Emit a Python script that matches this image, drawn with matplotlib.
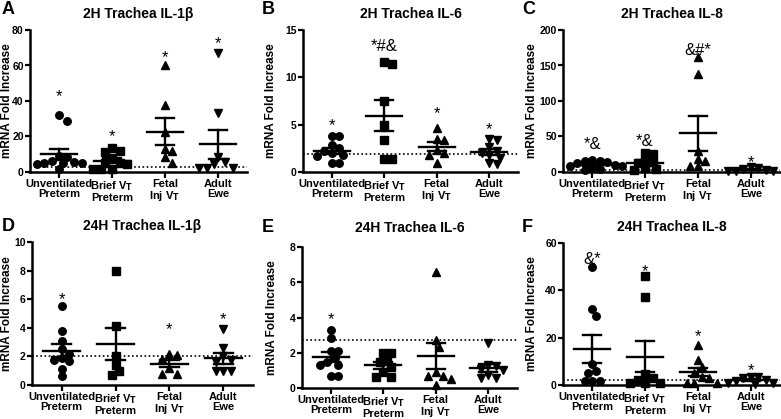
import numpy as np
import matplotlib
matplotlib.use("Agg")
import matplotlib.pyplot as plt
from matplotlib.transforms import offset_copy

plt.rcParams['font.family'] = ['Liberation Sans', 'DejaVu Sans']
plt.rcParams['font.weight'] = 'bold'
plt.rcParams['mathtext.default'] = 'bf'

groups = ['Unventilated\nPreterm', 'Brief V$_\\mathbf{T}$\nPreterm',
          'Fetal\nInj V$_\\mathbf{T}$', 'Adult\nEwe']
markers = ['o', 's', '^', 'v']

# values (fold increase), one list per group
A_vals = [[32, 29, 9, 8.5, 6, 5.5, 5.3, 5, 5, 4.5, 1.5],
          [13.5, 12, 11.5, 7.9, 5.3, 5, 4.5, 1.5, 1.5, 1.5],
          [60, 37.7, 22.7, 13, 12, 8.4, 5],
          [67, 33.4, 8.3, 5.5, 4.5, 2.2, 2.2, 2.2]]
B_vals = [[3.8, 3.75, 2.8, 2.5, 2.2, 2.0, 1.8, 1.7, 1.0, 1.0],
          [11.6, 11.4, 7.5, 5.0, 3.4, 1.4, 1.4],
          [4.7, 3.5, 3.4, 2.3, 2.0, 1.8, 1.0],
          [3.5, 3.4, 2.6, 2.2, 2.0, 1.8, 1.5, 1.0, 0.8]]
C_vals = [[17, 16, 15, 14, 13, 10, 9, 8, 5, 4, 3],
          [27, 25, 16, 14, 12, 5, 4, 3],
          [162, 138, 30, 19, 16, 8, 8],
          [7, 5, 4, 3, 2, 2, 1]]
D_vals = [[5.5, 3.8, 3.05, 2.55, 2.2, 1.9, 1.75, 1.65, 1.1, 0.6],
          [8.0, 4.1, 2.05, 1.4, 0.95, 0.7],
          [2.2, 2.1, 1.8, 1.2, 0.8, 0.8],
          [3.9, 2.6, 2.0, 1.75, 1.6, 1.0, 1.0, 1.0]]
E_vals = [[3.3, 2.85, 2.1, 2.1, 1.7, 1.5, 1.3, 1.3, 0.7, 0.7],
          [2.0, 2.0, 1.6, 1.5, 1.2, 0.9, 0.6, 0.6],
          [6.6, 2.7, 2.3, 0.9, 0.7, 0.7, 0.5, 0.15],
          [2.55, 1.3, 1.25, 1.1, 1.0, 0.75, 0.55, 0.55]]
F_vals = [[50, 32, 29, 9, 6, 5, 1.5, 1.5, 1.5],
          [46, 37, 4.5, 3, 2, 1, 1, 1],
          [17, 10.5, 7.5, 5, 3.5, 3, 1, 1, 1],
          [3.5, 3.5, 3, 2, 1.5, 1, 1, 0.5]]

# significance marks and the height of their centre
A_sig = (['*', '*', '*', '*'], [45, 22.5, 67, 75])
B_sig = (['*', '*#&', '*', '*'], [5.4, 13.4, 6.6, 4.9])
C_sig = (['*&', '*&', '&#*', '*'], [41, 45, 173, 19.5])
D_sig = (['*', '', '*', '*'], [6.3, 0, 4.2, 4.9])
E_sig = (['*', '', '', ''], [4.15, 0, 0, 0])
F_sig = (['&*', '*', '*', '*'], [53.6, 50, 22.2, 8])

titles = ['2H Trachea IL-1\u03b2', '2H Trachea IL-6', '2H Trachea IL-8',
          '24H Trachea IL-1\u03b2', '24H Trachea IL-6', '24H Trachea IL-8']
letters = ['A', 'B', 'C', 'D', 'E', 'F']
ymax = [80, 15, 200, 10, 8, 60]
ystep = [20, 5, 50, 2, 2, 20]
baseline = [2.6, 1.95, 3.5, 2.0, 2.72, 2.3]

W, H = 781, 419
# axes boxes in pixels: left, top, right, bottom
boxes = [(30, 30, 247, 172), (303, 30, 518, 172), (563, 30, 780, 172),
         (32, 242, 253, 385), (302, 247, 517, 388), (563, 243, 780, 385)]
ylab_x = [7, 271, 532, 7, 272, 532]
title_y = [14, 14, 14, 226, 228, 227]
letter_xy = [(2, 9), (262, 9), (522, 9), (2, 226), (262, 227), (522, 227)]


def swarm(ax, vals, x0, size_px):
    # simple beeswarm offsets in data units
    trans = ax.transData
    order = np.argsort(vals)[::-1]
    placed = []
    xs = np.zeros(len(vals))
    ppx = (trans.transform((1, 0))[0] - trans.transform((0, 0))[0])
    for i in order:
        yp = trans.transform((0, vals[i]))[1]
        for k in range(40):
            off = ((k + 1) // 2) * (1 if k % 2 else -1) * 0.5 * size_px
            ok = True
            for (px, py) in placed:
                if (px - off) ** 2 + (py - yp) ** 2 < (size_px * 0.95) ** 2:
                    ok = False
                    break
            if ok:
                break
        placed.append((off, yp))
        xs[i] = x0 + off / ppx
    return xs


fig = plt.figure(figsize=(W / 100, H / 100), dpi=100)

panels = [A_vals, B_vals, C_vals, D_vals, E_vals, F_vals]
sigs = [A_sig, B_sig, C_sig, D_sig, E_sig, F_sig]

for p in range(6):
    l, t, r, b = boxes[p]
    ax = fig.add_axes([l / W, 1 - b / H, (r - l) / W, (b - t) / H])
    ax.set_xlim(-0.55, 3.55)
    ax.set_ylim(0, ymax[p])
    for side in ['top', 'right']:
        ax.spines[side].set_visible(False)
    for side in ['left', 'bottom']:
        ax.spines[side].set_linewidth(1.8)
    ax.set_yticks(np.arange(0, ymax[p] + 0.01, ystep[p]))
    ax.set_xticks(range(4))
    ax.set_xticklabels(groups, fontsize=8, fontweight='bold', linespacing=1.0)
    ax.tick_params(axis='x', width=1.6, length=4, labelsize=8, pad=1)
    ax.tick_params(axis='y', width=1.6, length=3.5, labelsize=7.5, pad=1)
    for lab in ax.get_yticklabels():
        lab.set_fontweight('bold')
    ax.set_ylabel('mRNA Fold Increase', fontsize=8.5, fontweight='bold', va='center')
    ax.yaxis.set_label_coords((ylab_x[p] - l) / (r - l), 0.5)
    fig.text((l + r) / 2 / W, 1 - title_y[p] / H, titles[p], fontsize=10,
             fontweight='bold', ha='center', va='center')
    fig.text(letter_xy[p][0] / W, 1 - letter_xy[p][1] / H, letters[p],
             fontsize=13, fontweight='bold', ha='left', va='center')

    ax.axhline(baseline[p], color='black', linestyle=(0, (1, 1.5)), lw=1.2, zorder=1)

    for g in range(4):
        v = np.array(panels[p][g], dtype=float)
        xs = swarm(ax, v, g, 7.5)
        ax.plot(xs, v, linestyle='none', marker=markers[g], ms=5.4,
                color='black', zorder=3, clip_on=False)
        m = v.mean()
        s = v.std(ddof=1) / np.sqrt(len(v))
        ax.plot([g - 0.34, g + 0.34], [m, m], color='black', lw=1.7, zorder=4)
        ax.plot([g - 0.17, g + 0.17], [m + s, m + s], color='black', lw=1.7, zorder=4)
        ax.plot([g - 0.17, g + 0.17], [m - s, m - s], color='black', lw=1.7, zorder=4)
        ax.plot([g, g], [m - s, m + s], color='black', lw=1.7, zorder=4)
        lab, yy = sigs[p][0][g], sigs[p][1][g]
        if lab:
            drop = -9 if lab == '*' else -6
            tr = offset_copy(ax.transData, fig=fig, y=drop, units='dots')
            ax.text(g, yy, lab, ha='center', va='baseline', fontsize=12,
                    fontweight='normal', transform=tr)

fig.savefig('out.png', dpi=100)
